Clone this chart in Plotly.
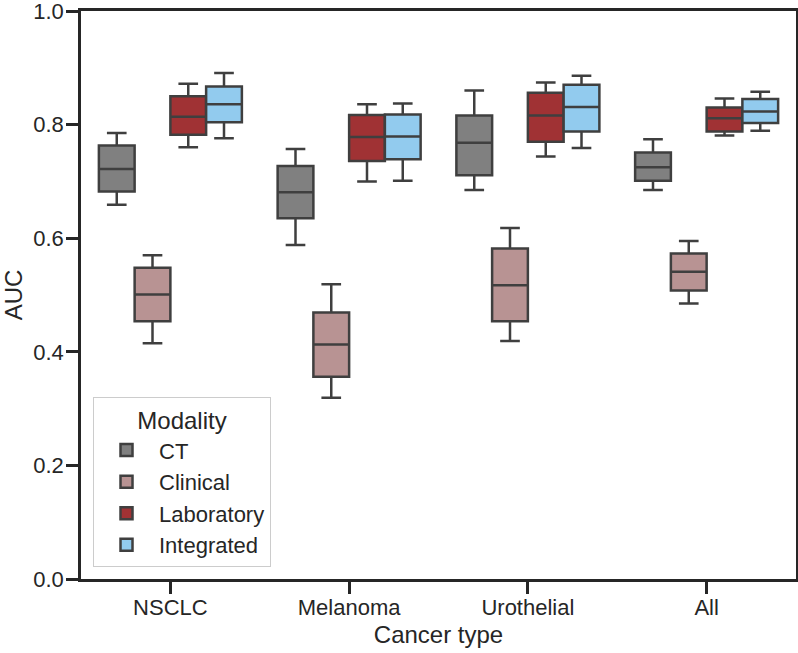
import plotly.graph_objects as go

categories = ["NSCLC", "Melanoma", "Urothelial", "All"]
modalities = ["CT", "Clinical", "Laboratory", "Integrated"]
colors = {"CT": "#808080", "Clinical": "#b89393", "Laboratory": "#a03234", "Integrated": "#92cbee"}

# per modality: values for NSCLC, Melanoma, Urothelial, All
lower = {
    "CT":         [0.659, 0.588, 0.685, 0.685],
    "Clinical":   [0.415, 0.319, 0.419, 0.485],
    "Laboratory": [0.760, 0.700, 0.744, 0.781],
    "Integrated": [0.776, 0.701, 0.759, 0.789],
}
q1 = {
    "CT":         [0.682, 0.635, 0.711, 0.701],
    "Clinical":   [0.454, 0.356, 0.454, 0.508],
    "Laboratory": [0.782, 0.736, 0.770, 0.788],
    "Integrated": [0.804, 0.739, 0.788, 0.803],
}
median = {
    "CT":         [0.722, 0.681, 0.768, 0.725],
    "Clinical":   [0.501, 0.413, 0.517, 0.541],
    "Laboratory": [0.814, 0.778, 0.816, 0.811],
    "Integrated": [0.836, 0.779, 0.831, 0.823],
}
q3 = {
    "CT":         [0.763, 0.727, 0.816, 0.751],
    "Clinical":   [0.548, 0.469, 0.582, 0.573],
    "Laboratory": [0.850, 0.817, 0.856, 0.830],
    "Integrated": [0.867, 0.818, 0.870, 0.845],
}
upper = {
    "CT":         [0.785, 0.757, 0.860, 0.774],
    "Clinical":   [0.570, 0.519, 0.618, 0.595],
    "Laboratory": [0.872, 0.836, 0.874, 0.846],
    "Integrated": [0.891, 0.837, 0.886, 0.858],
}
y_ticks = [0.0, 0.2, 0.4, 0.6, 0.8, 1.0]

edge = "#3f3f3f"
axis_col = "#262626"
font_family = "Liberation Sans, Arial, Helvetica, sans-serif"

fig = go.Figure()
for m in modalities:
    fig.add_trace(go.Box(
        name=m,
        x=categories,
        q1=q1[m], median=median[m], q3=q3[m],
        lowerfence=lower[m], upperfence=upper[m],
        fillcolor=colors[m],
        line=dict(color=edge, width=2.5),
        whiskerwidth=0.55,
        boxpoints=False,
        legendgroup=m,
        hoverinfo="y",
    ))

fig.update_layout(
    width=798, height=653,
    margin=dict(l=81, r=2, t=11, b=74, autoexpand=False),
    paper_bgcolor="white", plot_bgcolor="white",
    boxmode="group", boxgap=0.2, boxgroupgap=0.0,
    font=dict(family=font_family, size=22, color=axis_col),
    showlegend=True,
    legend=dict(
        title=dict(text="Modality", side="top center", font=dict(size=24)),
        x=0.0168, y=0.021, xanchor="left", yanchor="bottom",
        bgcolor="rgba(255,255,255,0.8)",
        bordercolor="#cccccc", borderwidth=1,
        font=dict(size=22),
        tracegroupgap=0,
        itemwidth=55,
    ),
    xaxis=dict(
        title=dict(text="Cancer type", font=dict(size=24), standoff=8),
        type="category", categoryorder="array", categoryarray=categories,
        range=[-0.5, 3.5],
        automargin=False,
        showline=True, linecolor=axis_col, linewidth=2.5, mirror=True,
        ticks="outside", ticklen=12, tickwidth=2.5, tickcolor=axis_col,
        ticklabelstandoff=-5,
        showgrid=False, zeroline=False,
    ),
    yaxis=dict(
        title=dict(text="AUC", font=dict(size=24), standoff=10),
        range=[0, 1.0],
        automargin=False,
        tickvals=y_ticks, ticktext=[f"{v:.1f}" for v in y_ticks],
        ticklabeloverflow="allow",
        ticklabelstandoff=-2,
        showline=True, linecolor=axis_col, linewidth=2.5, mirror=True,
        ticks="outside", ticklen=12, tickwidth=2.5, tickcolor=axis_col,
        showgrid=False, zeroline=False,
    ),
)

fig.write_html(
    "out.html",
    config={"displayModeBar": False},
    post_script="document.body.style.margin='0';document.body.style.padding='0';",
)
